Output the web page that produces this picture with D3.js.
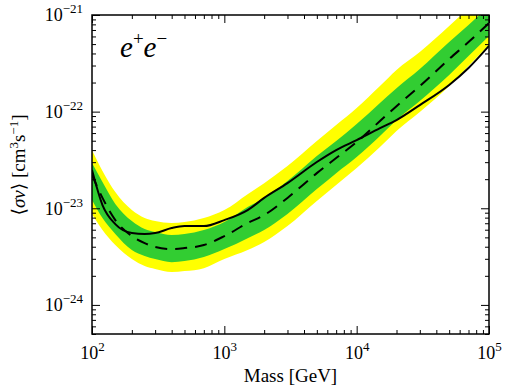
<!DOCTYPE html>
<html>
<head>
<meta charset="utf-8">
<script src="https://cdn.jsdelivr.net/npm/d3@7"></script>
<style>
  body { margin: 0; background: #fff; }
  text { font-family: "Liberation Serif", "DejaVu Serif", serif; fill: #000; }
</style>
</head>
<body>
<div id="chart"></div>
<script>
// values
const massGeV = [100, 120, 150, 200, 250, 300, 400, 500, 700, 1000, 1500, 2000,
  3000, 5000, 7000, 10000, 15000, 20000, 30000, 50000, 70000, 100000];

// 2 sigma (yellow) and 1 sigma (green) expected band edges
const yellowUpper = [4.00e-23, 2.43e-23, 1.47e-23, 9.58e-24, 7.92e-24, 7.37e-24, 7.03e-24, 7.20e-24,
  7.92e-24, 9.58e-24, 1.40e-23, 1.82e-23, 2.73e-23, 4.96e-23, 7.26e-23, 1.09e-22, 1.84e-22,
  2.70e-22, 4.14e-22, 7.69e-22, 1.18e-21, 1.90e-21];
const greenUpper = [2.94e-23, 1.87e-23, 1.11e-23, 7.37e-24, 6.09e-24, 5.67e-24, 5.28e-24, 5.41e-24,
  5.95e-24, 7.20e-24, 1.03e-23, 1.28e-23, 1.91e-23, 3.47e-23, 4.96e-23, 7.44e-23, 1.23e-22,
  1.75e-22, 2.76e-22, 5.25e-22, 7.88e-22, 1.24e-21];
const greenLower = [1.22e-23, 7.92e-24, 5.41e-24, 3.69e-24, 3.20e-24, 2.98e-24, 2.77e-24, 2.84e-24,
  3.13e-24, 3.78e-24, 4.91e-24, 5.95e-24, 8.71e-24, 1.58e-23, 2.31e-23, 3.39e-23, 5.59e-23,
  8.19e-23, 1.29e-22, 2.39e-22, 3.76e-22, 6.06e-22];
const yellowLower = [8.71e-24, 5.95e-24, 4.16e-24, 2.98e-24, 2.52e-24, 2.35e-24, 2.19e-24, 2.24e-24,
  2.40e-24, 2.98e-24, 3.69e-24, 4.47e-24, 6.54e-24, 1.19e-23, 1.74e-23, 2.61e-23, 4.30e-23,
  6.30e-23, 9.91e-23, 1.84e-22, 2.96e-22, 4.89e-22];

// expected (dashed) and observed (solid) limits
const expected = [2.21e-23, 1.28e-23, 7.55e-24, 5.15e-24, 4.36e-24, 3.97e-24, 3.78e-24, 3.87e-24,
  4.16e-24, 5.15e-24, 7.03e-24, 8.50e-24, 1.28e-23, 2.31e-23, 3.31e-23, 4.84e-23, 7.99e-23,
  1.14e-22, 1.84e-22, 3.50e-22, 5.25e-22, 8.26e-22];
const observed = [2.49e-23, 1.08e-23, 6.86e-24, 5.54e-24, 5.41e-24, 5.54e-24, 6.24e-24, 6.54e-24,
  6.54e-24, 7.55e-24, 9.58e-24, 1.28e-23, 1.82e-23, 3.01e-23, 4.00e-23, 5.08e-23, 6.76e-23,
  8.19e-23, 1.17e-22, 1.89e-22, 2.83e-22, 4.80e-22];

const xMajor = [1e2, 1e3, 1e4, 1e5];
const xMajorExp = ["2", "3", "4", "5"];
const yMajor = [1e-24, 1e-23, 1e-22, 1e-21];
const yMajorExp = ["\u221224", "\u221223", "\u221222", "\u221221"];

let svgWidth = 510,
  svgHeight = 390,
  margin = { top: 15, right: 21, bottom: 56, left: 92 },
  width = svgWidth - margin.left - margin.right,
  height = svgHeight - margin.top - margin.bottom;

let x = d3.scaleLog().domain([1e2, 1e5]).range([0, width]),
  y = d3.scaleLog().domain([5e-25, 1e-21]).range([height, 0]);

// minor ticks 2..9 x 10^k inside the domains
const xMinor = [], yMinor = [];
for (let k = 2; k < 5; k++) for (let j = 2; j < 10; j++) xMinor.push(j * Math.pow(10, k));
for (let k = -25; k < -21; k++) for (let j = 2; j < 10; j++) {
  const v = j * Math.pow(10, k);
  if (v >= 5e-25 && v <= 1e-21) yMinor.push(v);
}

let svg = d3.select("#chart").append("svg")
  .attr("width", svgWidth)
  .attr("height", svgHeight);

svg.append("defs").append("clipPath").attr("id", "clip")
  .append("rect").attr("width", width).attr("height", height);

let g = svg.append("g")
  .attr("transform", "translate(" + margin.left + "," + margin.top + ")");

let plot = g.append("g").attr("clip-path", "url(#clip)");

function band(lo, hi) {
  return d3.area()
    .curve(d3.curveMonotoneX)
    .x((d, i) => x(massGeV[i]))
    .y0((d, i) => y(lo[i]))
    .y1((d, i) => y(hi[i]));
}

const line = d3.line()
  .curve(d3.curveMonotoneX)
  .x((d, i) => x(massGeV[i]))
  .y(d => y(d));

plot.append("path").datum(massGeV)
  .attr("fill", "#ffff00")
  .attr("d", band(yellowLower, yellowUpper));

plot.append("path").datum(massGeV)
  .attr("fill", "#32cd32")
  .attr("d", band(greenLower, greenUpper));

plot.append("path").datum(expected)
  .attr("fill", "none")
  .attr("stroke", "#000")
  .attr("stroke-width", 2)
  .attr("stroke-dasharray", "12,8")
  .attr("d", line);

plot.append("path").datum(observed)
  .attr("fill", "none")
  .attr("stroke", "#000")
  .attr("stroke-width", 2)
  .attr("d", line);

// axes, ticks pointing inward on all four sides
function styleAxis(sel) {
  sel.select(".domain").remove();
  sel.selectAll("line").attr("stroke", "#000").attr("stroke-width", 1);
}

g.append("g").attr("transform", "translate(0," + height + ")")
  .call(d3.axisBottom(x).tickValues(xMinor).tickSize(-4).tickFormat(""))
  .call(styleAxis);
g.append("g")
  .call(d3.axisTop(x).tickValues(xMinor).tickSize(-4).tickFormat(""))
  .call(styleAxis);
g.append("g")
  .call(d3.axisLeft(y).tickValues(yMinor).tickSize(-4).tickFormat(""))
  .call(styleAxis);
g.append("g").attr("transform", "translate(" + width + ",0)")
  .call(d3.axisRight(y).tickValues(yMinor).tickSize(-4).tickFormat(""))
  .call(styleAxis);

let xAxis = g.append("g").attr("transform", "translate(0," + height + ")")
  .call(d3.axisBottom(x).tickValues(xMajor).tickSize(-8).tickPadding(10).tickFormat(""))
  .call(styleAxis);
g.append("g")
  .call(d3.axisTop(x).tickValues(xMajor).tickSize(-8).tickFormat(""))
  .call(styleAxis);
let yAxis = g.append("g")
  .call(d3.axisLeft(y).tickValues(yMajor).tickSize(-8).tickPadding(9).tickFormat(""))
  .call(styleAxis);
g.append("g").attr("transform", "translate(" + width + ",0)")
  .call(d3.axisRight(y).tickValues(yMajor).tickSize(-8).tickFormat(""))
  .call(styleAxis);

// power-of-ten labels with superscripts
xAxis.selectAll(".tick text")
  .attr("font-size", 18)
  .attr("dy", "0.85em")
  .each(function(d, i) {
    const t = d3.select(this);
    t.append("tspan").text("10");
    t.append("tspan").attr("font-size", 13).attr("dy", -8).text(xMajorExp[i]);
  });

yAxis.selectAll(".tick text")
  .attr("font-size", 18)
  .attr("dy", "0.32em")
  .each(function(d, i) {
    const t = d3.select(this);
    t.append("tspan").text("10");
    t.append("tspan").attr("font-size", 13).attr("dy", -8).text(yMajorExp[i]);
  });

// frame
g.append("rect")
  .attr("width", width)
  .attr("height", height)
  .attr("fill", "none")
  .attr("stroke", "#000")
  .attr("stroke-width", 1.5);

// axis titles
svg.append("text")
  .attr("x", margin.left + width / 2)
  .attr("y", 382)
  .attr("text-anchor", "middle")
  .attr("font-size", 19)
  .text("Mass [GeV]");

let yTitle = svg.append("text")
  .attr("transform", "translate(25,165) rotate(-90)")
  .attr("text-anchor", "middle")
  .attr("font-size", 19);
yTitle.append("tspan").text("\u27e8");
yTitle.append("tspan").attr("font-style", "italic").text("\u03c3v");
yTitle.append("tspan").text("\u27e9 [cm");
yTitle.append("tspan").attr("font-size", 13).attr("dy", -7).text("3");
yTitle.append("tspan").attr("dy", 7).text("s");
yTitle.append("tspan").attr("font-size", 13).attr("dy", -7).text("\u22121");
yTitle.append("tspan").attr("dy", 7).text("]");

// channel label
let chan = g.append("text")
  .attr("x", 28)
  .attr("y", 42)
  .attr("font-size", 29)
  .attr("font-style", "italic");
chan.append("tspan").text("e");
chan.append("tspan").attr("font-size", 19).attr("font-style", "normal").attr("dy", -12).text("+");
chan.append("tspan").attr("dy", 12).text("e");
chan.append("tspan").attr("font-size", 19).attr("font-style", "normal").attr("dy", -12).text("\u2212");
</script>
</body>
</html>
